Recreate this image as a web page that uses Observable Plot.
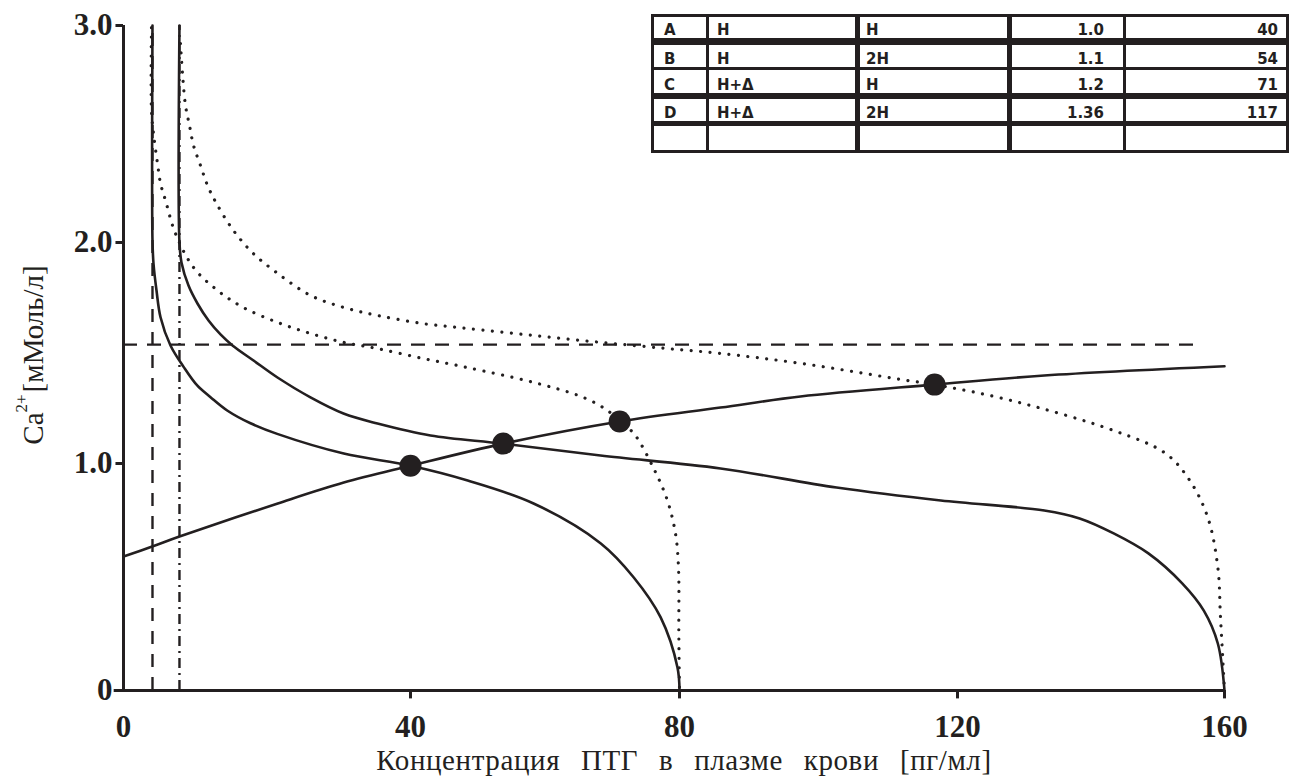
<!DOCTYPE html>
<html>
<head>
<meta charset="utf-8">
<script src="https://cdn.jsdelivr.net/npm/d3@7"></script>
<script src="https://cdn.jsdelivr.net/npm/@observablehq/plot@0.6"></script>
<style>
  body { margin: 0; background: #fff; }
  #wrap { position: relative; width: 1290px; height: 778px; overflow: hidden; }
  .tl { position: absolute; background: #231f20; }
  .tc { position: absolute; font: bold 15px "DejaVu Sans", sans-serif; line-height: 16px; color: #231f20; white-space: nowrap; }
</style>
</head>
<body>
<div id="wrap"></div>
<script>
// ---------- data ----------
const xTicks = [0, 40, 80, 120, 160];
const xTickMarks = [40, 80, 120, 160];
const yTicks = [0, 1, 2, 3];
const xTitle = "Концентрация ПТГ в плазме крови [пг/мл]";
const yTitleMain = "Ca";
const yTitleSup = "2+";
const yTitleUnit = "[мМоль/л]";

// rising Ca2+ response curve
const calciumResponse = [[0,0.59],[4.0,0.634],[7.8,0.678],[21.5,0.824],[30.7,0.916],[40,0.99],[53.8,1.09],[71.1,1.19],[85.9,1.253],[97.4,1.303],[116.7,1.357],[133,1.398],[160,1.44]];
// solid secretion curves
const solidA = [[4.04,3.0],[4.04,2.009],[4.18,1.905],[4.6,1.783],[5.16,1.662],[6.55,1.534],[8.4,1.436],[10.27,1.353],[12.13,1.3],[14.45,1.24],[17.7,1.182],[21.42,1.134],[30.7,1.045],[40,0.99],[48.5,0.925],[58.3,0.824],[68.3,0.648],[73.2,0.498],[77.2,0.322],[79.7,0.101],[80,0]];
const solidB = [[7.8,3.0],[7.8,2.0],[8.08,1.91],[9.06,1.805],[10.31,1.724],[11.85,1.647],[13.52,1.584],[15.19,1.534],[18.12,1.466],[21.46,1.389],[26.06,1.299],[30.66,1.226],[35.4,1.181],[42.97,1.127],[53.8,1.09],[68.25,1.036],[85.9,0.978],[102.6,0.894],[117.6,0.837],[133,0.793],[138.3,0.758],[143.4,0.692],[148.6,0.604],[153.7,0.471],[156.9,0.352],[159,0.207],[160,0]];
// dotted (shifted set-point) curves
const dottedA = [[3.9,2.99],[3.9,2.608],[4.18,2.502],[4.74,2.364],[5.16,2.272],[5.85,2.194],[7.25,2.041],[9.76,1.887],[13.1,1.783],[16.7,1.706],[21.5,1.638],[26.1,1.588],[30.7,1.548],[35.4,1.52],[41.9,1.475],[48.5,1.434],[58.3,1.367],[65.7,1.299],[69.3,1.24],[71.1,1.19],[73.2,1.136],[76.1,0.982],[78.2,0.837],[79.4,0.692],[79.85,0.542],[79.9,0.251],[80,0]];
const dottedB = [[7.94,2.917],[8.22,2.779],[8.64,2.631],[9.2,2.539],[9.76,2.447],[10.73,2.355],[11.71,2.263],[12.96,2.18],[15.33,2.055],[18.1,1.95],[21.5,1.86],[26.1,1.76],[30.7,1.706],[35.4,1.67],[41.9,1.633],[48.5,1.611],[58.3,1.579],[68.3,1.548],[78.2,1.52],[85.9,1.498],[97.7,1.452],[112.7,1.376],[116.7,1.357],[127.8,1.287],[143.4,1.149],[151.2,1.045],[154.8,0.925],[157.5,0.762],[159,0.542],[159.4,0.322],[160,0]];
// equilibrium points
const equilibriumPoints = [[40,0.99],[53.8,1.09],[71.1,1.19],[116.7,1.357]];
// reference lines
const setPointLevel = [1.538];
const setPointEnd = 156.1;
const minSecretionA = [4.04];
const minSecretionB = [7.8];

// table contents
const tableLabels = ["A", "B", "C", "D"];
const tableCol2 = ["Н", "Н", "Н+Δ", "Н+Δ"];
const tableCol3 = ["Н", "2Н", "Н", "2Н"];
const tableCa = ["1.0", "1.1", "1.2", "1.36"];
const tablePTH = ["40", "54", "71", "117"];

// ---------- chart ----------
const ink = "#231f20";
const serif = "'Liberation Serif', 'Times New Roman', serif";
// the printed axes are slightly uneven: warp values so each tick lands where the original shows it
const warpX = d3.scaleLinear().domain(xTicks).range([0, 287, 556, 834, 1101]);
const warpY = d3.scaleLinear().domain(yTicks).range([0, 227, 448, 665]);

const curveLine = (data, opts = {}) => Plot.line(data, {x: d => d[0], y: d => d[1], stroke: ink, strokeWidth: 2.6, curve: "catmull-rom", ...opts});
const dotted = {strokeWidth: 3.2, strokeDasharray: "0.01 9.5", strokeLinecap: "round"};
const tickFont = {fontSize: 31, fontWeight: "bold", fontFamily: serif, fill: ink};

const chart = Plot.plot({
  width: 1290, height: 778,
  marginLeft: 123, marginRight: 66, marginTop: 25, marginBottom: 88,
  x: {transform: v => warpX(v), domain: [0, 1101], axis: null},
  y: {transform: v => warpY(v), domain: [0, 665], axis: null},
  style: {fontFamily: serif, color: ink, background: "#fff", overflow: "visible"},
  marks: [
    Plot.ruleX(minSecretionA, {y1: 0, y2: 3, stroke: ink, strokeWidth: 2.4, strokeDasharray: "13 10"}),
    Plot.ruleX(minSecretionB, {y1: 0, y2: 3, stroke: ink, strokeWidth: 2.4, strokeDasharray: "10 5 2 5"}),
    Plot.ruleY(setPointLevel, {x1: 0, x2: setPointEnd, stroke: ink, strokeWidth: 2.4, strokeDasharray: "14 10"}),
    curveLine(dottedA, dotted),
    curveLine(dottedB, dotted),
    curveLine(solidA),
    curveLine(solidB),
    curveLine(calciumResponse),
    Plot.dot(equilibriumPoints, {x: d => d[0], y: d => d[1], r: 11, fill: ink}),
    // axes
    Plot.ruleY([0], {x1: -1.3, x2: 160, stroke: ink, strokeWidth: 3}),
    Plot.ruleX([0], {y1: 0, y2: 3, stroke: ink, strokeWidth: 3}),
    Plot.ruleX(xTickMarks, {y1: 0, y2: -0.037, stroke: ink, strokeWidth: 3}),
    Plot.ruleY(yTicks, {x1: 0, x2: -1.05, stroke: ink, strokeWidth: 3}),
    Plot.text(xTicks, {x: d => d, y: 0, text: d => String(d), lineAnchor: "top", dy: 24, ...tickFont}),
    Plot.text(yTicks, {x: 0, y: d => d, text: d => d === 0 ? "0" : d.toFixed(1), textAnchor: "end", dx: -11, ...tickFont})
  ]
});

const wrap = document.getElementById("wrap");
wrap.appendChild(chart);

// axis titles
const svg = d3.select(chart);
svg.append("text")
  .attr("x", 684).attr("y", 770)
  .attr("text-anchor", "middle")
  .attr("fill", ink)
  .style("font-family", serif).style("font-size", "29px")
  .style("letter-spacing", "0.6px").style("word-spacing", "13px")
  .text(xTitle);

const yt = svg.append("text")
  .attr("transform", "translate(43,355) rotate(-90)")
  .attr("text-anchor", "middle")
  .attr("fill", ink)
  .style("font-family", serif).style("font-size", "29px");
yt.append("tspan").text(yTitleMain);
yt.append("tspan").attr("dy", -16).style("font-size", "17px").text(yTitleSup);
yt.append("tspan").attr("dy", 16).attr("dx", 2).text(yTitleUnit);

// ---------- table (annotation) ----------
const vLines = [[651, 3], [706, 3], [855, 5], [1007, 5], [1123, 3], [1286, 3]];
const hLines = [[14, 3], [38, 7], [67, 3], [93, 6], [121, 5], [150, 3]];
const tTop = 14, tBottom = 153, tLeft = 651, tRight = 1289;
vLines.forEach(([x, w]) => {
  const d = document.createElement("div");
  d.className = "tl";
  Object.assign(d.style, {left: x + "px", top: tTop + "px", width: w + "px", height: (tBottom - tTop) + "px"});
  wrap.appendChild(d);
});
hLines.forEach(([y, h]) => {
  const d = document.createElement("div");
  d.className = "tl";
  Object.assign(d.style, {left: tLeft + "px", top: y + "px", width: (tRight - tLeft) + "px", height: h + "px"});
  wrap.appendChild(d);
});
const rowBottoms = [38, 67, 93, 121];
const cols = [
  {vals: tableLabels, left: 664},
  {vals: tableCol2, left: 717},
  {vals: tableCol3, left: 866},
  {vals: tableCa, right: 1104},
  {vals: tablePTH, right: 1278}
];
cols.forEach(c => {
  c.vals.forEach((v, i) => {
    const d = document.createElement("div");
    d.className = "tc";
    d.textContent = v;
    d.style.top = (rowBottoms[i] - 16) + "px";
    if (c.left !== undefined) d.style.left = c.left + "px";
    else d.style.right = (1290 - c.right) + "px";
    wrap.appendChild(d);
  });
});
</script>
</body>
</html>
